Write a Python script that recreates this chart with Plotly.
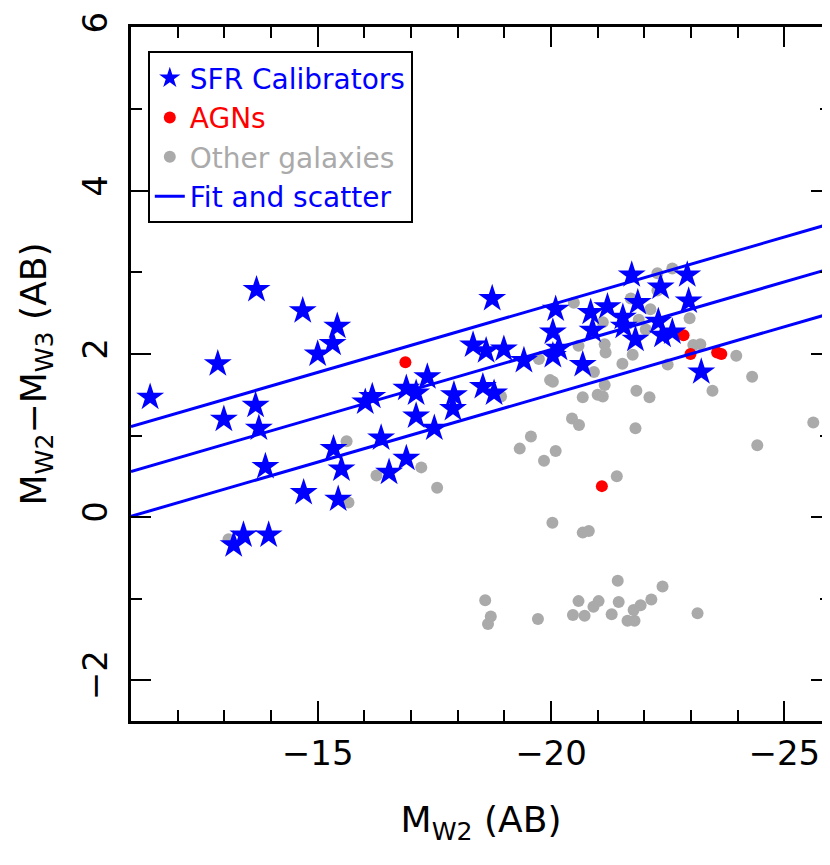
import plotly.graph_objects as go

# ---------------- data ----------------
SFR_M = [-11.41, -12.86, -13.69, -12.99, -13.67, -13.74, -13.88, -13.20, -13.41, -13.95,
         -14.68, -15.42, -15.32, -15.00, -14.70, -15.34, -15.51, -15.44, -16.02, -16.17,
         -16.36, -16.53, -16.90, -16.90, -17.11, -17.11, -17.35, -17.92, -17.90, -17.50,
         -18.54, -18.78, -18.74, -18.33, -18.61, -18.99, -19.42, -20.10, -20.04, -20.17,
         -20.04, -20.68, -20.85, -21.21, -20.89, -21.54, -21.73, -21.86, -21.56, -21.81,
         -22.35, -22.92, -22.95, -22.30, -22.39, -22.60, -23.22]
SFR_C = [1.47, 1.88, 2.79, 1.20, 1.37, 1.09, 0.62, -0.34, -0.22, -0.22,
         2.53, 2.34, 2.13, 2.00, 0.30, 0.84, 0.59, 0.22, 1.41, 1.48,
         0.97, 0.55, 0.72, 1.58, 1.52, 1.24, 1.72, 1.50, 1.33, 1.09,
         1.60, 1.52, 2.68, 2.11, 2.04, 2.06, 1.92, 2.55, 2.27, 2.07,
         1.98, 1.87, 2.51, 2.58, 2.29, 2.45, 2.97, 2.63, 2.34, 2.18,
         2.82, 2.97, 2.65, 2.40, 2.23, 2.27, 1.78]

AGN_M = [-16.88, -22.84, -22.99, -23.56, -23.65, -21.09]
AGN_C = [1.90, 2.23, 2.00, 2.02, 2.00, 0.38]

OTH_M = [-15.62, -16.26, -17.22, -15.66, -13.09, -17.56, -19.74, -19.98, -20.04, -20.45,
         -20.60, -19.57, -19.33, -20.10, -19.85, -20.49, -18.93, -21.71, -22.13, -22.28,
         -22.28, -22.60, -22.97, -23.20, -23.05, -23.46, -23.97, -24.31, -24.42, -25.62,
         -21.11, -21.15, -21.17, -20.59, -21.53, -21.75, -20.92, -21.15, -21.00, -21.11,
         -20.68, -21.83, -22.11, -22.50, -21.81, -21.88, -22.03, -21.41, -20.03, -20.68,
         -20.81, -21.43, -18.59, -18.71, -18.65, -19.72, -20.47, -20.59, -20.72, -20.91,
         -21.02, -21.30, -21.45, -21.64, -21.79, -21.77, -21.92, -22.15, -22.39, -23.14]
OTH_C = [0.93, 0.51, 0.61, 0.18, -0.27, 0.36, 1.94, 1.68, 1.66, 1.21,
         1.13, 0.99, 0.84, 0.81, 0.69, 2.63, 1.48, 2.68, 2.55, 2.78,
         2.99, 3.05, 2.44, 2.12, 2.11, 1.55, 1.98, 1.72, 0.88, 1.16,
         2.39, 2.12, 2.02, 2.10, 1.88, 1.99, 1.78, 1.62, 1.50, 1.48,
         1.47, 1.55, 1.47, 1.87, 1.09, 2.42, 2.30, 0.50, -0.07, -0.19,
         -0.17, -0.78, -1.02, -1.22, -1.31, -1.25, -1.20, -1.03, -1.21, -1.10,
         -1.03, -1.19, -1.04, -1.27, -1.27, -1.14, -1.08, -1.01, -0.85, -1.18]

# fit line end points (middle line) and scatter offset
FIT_M = [-11.0, -26.0]
FIT_C = [0.56, 3.05]
SCATTER = 0.55

X_TICKS = [-15, -20, -25]
Y_TICKS = [-2, 0, 2, 4, 6]

FONT = "DejaVu Sans"
BLUE = "#0000ff"
RED = "#ff0000"
GRAY = "#aaaaaa"

fig = go.Figure()

fig.add_trace(go.Scatter(
    x=OTH_M, y=OTH_C, mode="markers", name="<span style='color:#aaaaaa'>Other galaxies</span>",
    marker=dict(symbol="circle", size=12, color=GRAY, line=dict(width=0)),
    legendrank=3))

fig.add_trace(go.Scatter(
    x=AGN_M, y=AGN_C, mode="markers", name="<span style='color:#ff0000'>AGNs</span>",
    marker=dict(symbol="circle", size=12, color=RED, line=dict(width=0)),
    legendrank=2))

lx, ly = [], []
for off in (SCATTER, 0.0, -SCATTER):
    lx += FIT_M + [None]
    ly += [FIT_C[0] + off, FIT_C[1] + off, None]
fig.add_trace(go.Scatter(
    x=lx, y=ly, mode="lines", name="<span style='color:#0000ff'>Fit and scatter</span>",
    line=dict(color=BLUE, width=3), legendrank=4))

fig.add_trace(go.Scatter(
    x=SFR_M, y=SFR_C, mode="markers", name="<span style='color:#0000ff'>SFR Calibrators</span>",
    marker=dict(symbol="star", size=21, color=BLUE, line=dict(width=0)),
    legendrank=1))

axis_common = dict(
    showgrid=False, zeroline=False, showline=True, linecolor="black", linewidth=2.5,
    mirror="ticks", ticks="inside", tickcolor="black", tickwidth=2, ticklen=20,
    tickfont=dict(family=FONT, size=34, color="black"),
)

fig.update_xaxes(
    range=[-11, -26], tickvals=X_TICKS, ticktext=["\u2212" + str(abs(v)) for v in X_TICKS],
    minor=dict(dtick=1, tick0=0, ticks="inside", ticklen=11, tickwidth=2, tickcolor="black"),
    title=dict(text="M<sub>W2</sub> (AB)", font=dict(family=FONT, size=36, color="black"), standoff=36),
    **axis_common)

fig.update_yaxes(
    range=[-2.5, 6.01], tickvals=Y_TICKS,
    ticktext=[("\u2212" + str(abs(v))) if v < 0 else str(v) for v in Y_TICKS],
    tickangle=-90, ticklabelstandoff=8, ticklabeloverflow="allow",
    minor=dict(dtick=1, tick0=0, ticks="inside", ticklen=11, tickwidth=2, tickcolor="black"),
    title=dict(text="M<sub>W2</sub>\u2212M<sub>W3</sub> (AB)", font=dict(family=FONT, size=36, color="black"), standoff=18),
    **axis_common)

fig.update_layout(
    width=830, height=865,
    margin=dict(l=123, r=4, t=12, b=152),
    paper_bgcolor="white", plot_bgcolor="white",
    showlegend=True,
    legend=dict(
        x=0.024, y=0.965, xanchor="left", yanchor="top",
        bordercolor="black", borderwidth=2, bgcolor="white",
        font=dict(family=FONT, size=28), itemsizing="trace",
        traceorder="normal", itemwidth=30,
    ),
)

fig.write_html("out.html")
